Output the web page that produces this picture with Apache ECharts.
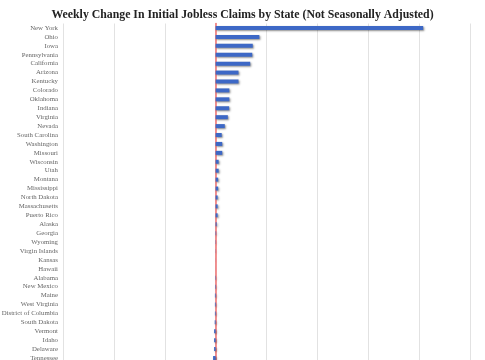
<!DOCTYPE html>
<html><head><meta charset="utf-8">
<script src="https://cdn.jsdelivr.net/npm/echarts@6/dist/echarts.min.js"></script>
<style>html,body{margin:0;padding:0;overflow:hidden;background:#fff;width:485px;height:360px}#c{width:485px;height:372px}</style>
</head><body><div id="c"></div>
<script>
const states = ["New York","Ohio","Iowa","Pennsylvania","California","Arizona","Kentucky","Colorado","Oklahoma","Indiana","Virginia","Nevada","South Carolina","Washington","Missouri","Wisconsin","Utah","Montana","Mississippi","North Dakota","Massachusetts","Puerto Rico","Alaska","Georgia","Wyoming","Virgin Islands","Kansas","Hawaii","Alabama","New Mexico","Maine","West Virginia","District of Columbia","South Dakota","Vermont","Idaho","Delaware","Tennessee"];
const changes = [20400,4300,3650,3600,3400,2250,2250,1350,1350,1330,1200,900,600,650,650,300,300,250,250,200,200,200,100,50,25,15,5,3,-40,-50,-70,-70,-70,-90,-150,-150,-150,-250];
const chart = echarts.init(document.getElementById('c'));
chart.setOption({
  animation:false,
  title:{text:'Weekly Change In Initial Jobless Claims by State (Not Seasonally Adjusted)',left:'center',top:4,
    textStyle:{fontFamily:'Liberation Serif',fontWeight:'bold',fontSize:11.8,color:'#222'}},
  grid:{left:63,right:15,top:23.5,bottom:9.5,containLabel:false,outerBoundsMode:'none'},
  xAxis:{type:'value',min:-15000,max:25000,interval:5000,
    axisLabel:{show:false},axisTick:{show:false},axisLine:{show:false},
    splitLine:{lineStyle:{color:'#e2e2e2',width:1}}},
  yAxis:{type:'category',data:states,inverse:true,
    axisTick:{show:false},
    axisLine:{onZero:true,lineStyle:{color:'#f07070',width:1.5}},
    axisLabel:{interval:0,fontFamily:'Liberation Serif',fontSize:6.8,color:'#666',margin:5}},
  series:[{type:'bar',data:changes,barWidth:4,
    itemStyle:{color:'#3d68c6',shadowColor:'rgba(0,0,0,0.45)',shadowBlur:2,shadowOffsetX:1,shadowOffsetY:1}}]
});
</script></body></html>
